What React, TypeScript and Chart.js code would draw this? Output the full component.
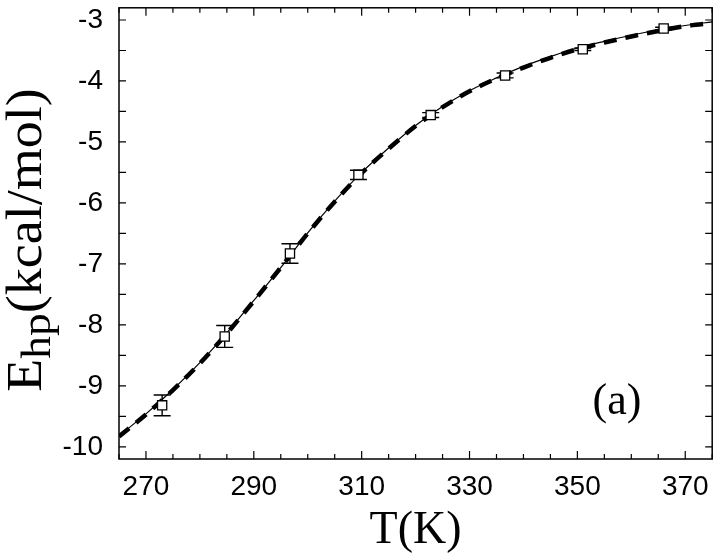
import React, { useEffect, useRef } from "react";
import { Chart, registerables } from "chart.js";

Chart.register(...registerables);

// Simulation points (T in K, E_hp in kcal/mol) with error bars
const temperatures = [273.0, 284.6, 296.7, 309.4, 322.8, 336.6, 351.0, 366.0];
const energies = [-9.32, -8.19, -6.83, -5.54, -4.56, -3.91, -3.48, -3.14];
const errors = [0.17, 0.18, 0.16, 0.075, 0.04, 0.04, 0.02, 0.02];

// Fitted curves
const curveT = [265, 270, 275, 280, 285, 290, 295, 300, 305, 310, 315, 320, 325, 330, 335, 340, 345, 350, 355, 360, 365, 370, 375];
const fitSolid = [-9.82, -9.46, -9.06, -8.62, -8.13, -7.6, -7.06, -6.49, -5.97, -5.5, -5.1, -4.73, -4.42, -4.16, -3.95, -3.76, -3.6, -3.46, -3.35, -3.25, -3.16, -3.09, -3.03];
const fitDashed = [-9.83, -9.47, -9.07, -8.63, -8.14, -7.61, -7.06, -6.5, -5.98, -5.51, -5.11, -4.74, -4.43, -4.17, -3.96, -3.78, -3.62, -3.48, -3.37, -3.27, -3.18, -3.1, -3.05];

// Axes
const xMin = 265;
const xMax = 375;
const yMin = -10.2;
const yMax = -2.8;
const xTickLabels = [270, 290, 310, 330, 350, 370];
const yTickLabels = [-10, -9, -8, -7, -6, -5, -4, -3];
const xMinorStep = 5;
const yMinorStep = 0.5;

const SERIF = "'Liberation Serif', 'Times New Roman', serif";
const SANS = "'Liberation Sans', Arial, sans-serif";

const decorPlugin = {
  id: "decor",
  beforeDatasetDraw(chart: any, args: any) {
    if (args.index !== 2) return;
    const ctx = chart.ctx;
    const xs = chart.scales.x;
    const ys = chart.scales.y;
    ctx.save();
    ctx.strokeStyle = "#000";
    ctx.lineWidth = 1.4;
    temperatures.forEach((t, i) => {
      const px = xs.getPixelForValue(t);
      const top = ys.getPixelForValue(energies[i] + errors[i]);
      const bot = ys.getPixelForValue(energies[i] - errors[i]);
      ctx.beginPath();
      ctx.moveTo(px, top);
      ctx.lineTo(px, bot);
      ctx.moveTo(px - 8.5, top);
      ctx.lineTo(px + 8.5, top);
      ctx.moveTo(px - 8.5, bot);
      ctx.lineTo(px + 8.5, bot);
      ctx.stroke();
    });
    ctx.restore();
  },
  afterDraw(chart: any) {
    const ctx = chart.ctx;
    const area = chart.chartArea;
    const xs = chart.scales.x;
    const ys = chart.scales.y;
    ctx.save();
    ctx.strokeStyle = "#000";
    ctx.lineWidth = 1.5;
    ctx.strokeRect(area.left, area.top, area.right - area.left, area.bottom - area.top);

    // inward ticks on all four sides
    ctx.lineWidth = 1.2;
    ctx.beginPath();
    for (let v = xMin; v <= xMax + 1e-9; v += xMinorStep) {
      const px = xs.getPixelForValue(v);
      const major = xTickLabels.includes(Math.round(v));
      const len = major ? 8 : 5;
      ctx.moveTo(px, area.bottom);
      ctx.lineTo(px, area.bottom - len);
      ctx.moveTo(px, area.top);
      ctx.lineTo(px, area.top + len);
    }
    for (let v = -10; v <= yMax + 1e-9; v += yMinorStep) {
      const py = ys.getPixelForValue(v);
      const len = 7;
      ctx.moveTo(area.left, py);
      ctx.lineTo(area.left + len, py);
      ctx.moveTo(area.right, py);
      ctx.lineTo(area.right - len, py);
    }
    ctx.stroke();

    ctx.fillStyle = "#000";
    // x title
    ctx.font = `46px ${SERIF}`;
    ctx.textAlign = "center";
    ctx.textBaseline = "alphabetic";
    ctx.fillText("T(K)", (area.left + area.right) / 2, 543);

    // panel label
    ctx.font = `44px ${SERIF}`;
    ctx.fillText("(a)", 617, 414);

    // y title with subscript
    ctx.save();
    ctx.translate(41, 240);
    ctx.rotate(-Math.PI / 2);
    ctx.scale(1.08, 1);
    ctx.textAlign = "left";
    const mainFont = `50px ${SERIF}`;
    const subFont = `42px ${SERIF}`;
    ctx.font = mainFont;
    const wE = ctx.measureText("E").width;
    const wRest = ctx.measureText("(kcal/mol)").width;
    ctx.font = subFont;
    const wSub = ctx.measureText("hp").width;
    const total = wE + wSub + wRest;
    let x0 = -total / 2;
    ctx.font = mainFont;
    ctx.fillText("E", x0, 0);
    x0 += wE;
    ctx.font = subFont;
    ctx.fillText("hp", x0, 9);
    x0 += wSub;
    ctx.font = mainFont;
    ctx.fillText("(kcal/mol)", x0, 0);
    ctx.restore();

    ctx.restore();
  },
};

export default function App() {
  const canvasRef = useRef<HTMLCanvasElement | null>(null);

  useEffect(() => {
    document.body.style.margin = "0";
    const canvas = canvasRef.current;
    if (!canvas) return;
    const chart = new Chart(canvas, {
      type: "line",
      data: {
        datasets: [
          {
            label: "fit",
            data: curveT.map((t, i) => ({ x: t, y: fitSolid[i] })),
            borderColor: "#000",
            borderWidth: 1.2,
            pointRadius: 0,
            fill: false,
            cubicInterpolationMode: "monotone",
            order: 2,
          },
          {
            label: "fit dashed",
            data: curveT.map((t, i) => ({ x: t, y: fitDashed[i] })),
            borderColor: "#000",
            borderWidth: 4.5,
            borderDash: [13, 9],
            borderCapStyle: "butt",
            pointRadius: 0,
            fill: false,
            cubicInterpolationMode: "monotone",
            order: 1,
          },
          {
            label: "simulation",
            data: temperatures.map((t, i) => ({ x: t, y: energies[i] })),
            showLine: false,
            pointStyle: "rect",
            pointRadius: 6.5,
            pointBackgroundColor: "#fff",
            pointBorderColor: "#000",
            pointBorderWidth: 1.3,
            order: 0,
          },
        ] as any,
      },
      options: {
        responsive: false,
        animation: false,
        layout: { padding: { left: 0, top: 5, right: 7, bottom: 0 } },
        plugins: { legend: { display: false }, tooltip: { enabled: false }, title: { display: false } },
        scales: {
          x: {
            type: "linear",
            min: xMin,
            max: xMax,
            grid: { display: false, drawTicks: false },
            border: { display: false },
            afterBuildTicks: (scale: any) => {
              scale.ticks = xTickLabels.map((v) => ({ value: v }));
            },
            afterFit: (scale: any) => {
              scale.height = 96;
              scale.paddingLeft = 0;
              scale.paddingRight = 0;
            },
            ticks: {
              color: "#000",
              font: { family: SANS, size: 28 },
              padding: 11,
              maxRotation: 0,
              autoSkip: false,
              callback: (v: any) => String(v),
            },
          },
          y: {
            type: "linear",
            min: yMin,
            max: yMax,
            grid: { display: false, drawTicks: false },
            border: { display: false },
            afterBuildTicks: (scale: any) => {
              scale.ticks = yTickLabels.map((v) => ({ value: v }));
            },
            afterFit: (scale: any) => {
              scale.width = 119;
              scale.paddingTop = 0;
              scale.paddingBottom = 0;
            },
            ticks: {
              color: "#000",
              font: { family: SANS, size: 28 },
              padding: 16,
              autoSkip: false,
              callback: (v: any) => String(v),
            },
          },
        },
      } as any,
      plugins: [decorPlugin],
    });
    return () => chart.destroy();
  }, []);

  return (
    <div style={{ position: "absolute", left: 0, top: 0, width: 720, height: 555, background: "#fff" }}>
      <canvas ref={canvasRef} width={720} height={555} />
    </div>
  );
}
